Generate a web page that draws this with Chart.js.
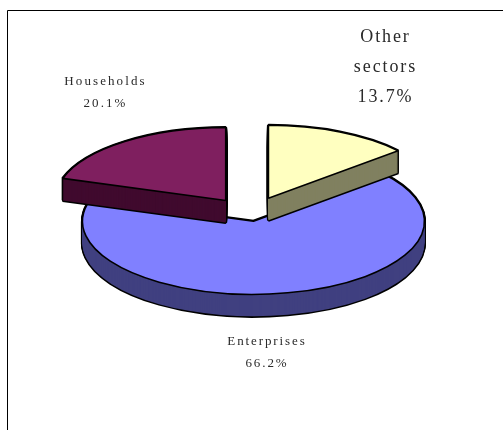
<!DOCTYPE html>
<html>
<head>
<meta charset="utf-8">
<style>
  html, body { margin: 0; padding: 0; background: #fff; }
  #wrap { position: relative; width: 503px; height: 430px; overflow: hidden; }
</style>
<script src="https://cdn.jsdelivr.net/npm/chart.js@4/dist/chart.umd.min.js"></script>
</head>
<body>
<div id="wrap"><canvas id="pie" width="503" height="430"></canvas></div>
<script>
// Shares of total by sector
const categories = ['Other sectors', 'Enterprises', 'Households'];
const shares = [13.7, 66.2, 20.1];

// Slice styling: top face, side wall, explode distance along the slice's middle
const topColors = ['#FFFFC0', '#8080FF', '#7F1F5F'];
const wallColors = ['#808060', '#404080', '#400A2E'];
const explode = [43, 15, 42];

// Tilted-disc look: vertical squash and extrusion depth
const tilt = 0.427;
const depth = 22;

// Label blocks, in the same order as the categories
const labelLayout = [
  { lines: ['Other', 'sectors'], x: 385.5, y: 42, step: 30, font: '18px "Liberation Serif"', spacing: '1.9px' },
  { x: 267, y: 345, step: 22, font: '13px "Liberation Serif"', spacing: '1.9px' },
  { x: 105.5, y: 85, step: 22, font: '13px "Liberation Serif"', spacing: '2.1px' }
];

function drawArcLayer(ctx, arc, shift, overrides, push) {
  const saved = arc.options;
  const opts = Object.create(saved);
  Object.assign(opts, overrides);
  arc.options = opts;
  const mid = (arc.startAngle + arc.endAngle) / 2;
  ctx.save();
  ctx.translate(arc.x, arc.y + shift);
  ctx.scale(1, tilt);
  ctx.translate(-arc.x, -arc.y);
  ctx.translate(Math.cos(mid) * push, Math.sin(mid) * push);
  arc.draw(ctx);
  ctx.restore();
  arc.options = saved;
}

const tiltedPie = {
  id: 'tiltedPie',
  beforeDraw(chart) {
    // Open frame along the top and left of the page
    const ctx = chart.ctx;
    ctx.save();
    ctx.fillStyle = '#fff';
    ctx.fillRect(0, 0, chart.width, chart.height);
    ctx.strokeStyle = '#000';
    ctx.lineWidth = 1;
    ctx.beginPath();
    ctx.moveTo(7.5, chart.height);
    ctx.lineTo(7.5, 10.5);
    ctx.lineTo(chart.width, 10.5);
    ctx.stroke();
    ctx.restore();
  },
  beforeDatasetsDraw(chart) {
    const ctx = chart.ctx;
    const arcs = chart.getDatasetMeta(0).data;

    // Outlines keep an even width although the path itself is squashed
    const nativeStroke = ctx.stroke;
    ctx.stroke = function () {
      ctx.save();
      ctx.setTransform(1, 0, 0, 1, 0, 0);
      nativeStroke.call(ctx);
      ctx.restore();
    };

    // The large front slice goes first, the two rear slices sit over it
    [1, 0, 2].forEach(i => {
      const arc = arcs[i];
      for (let d = depth; d >= 0; d--) {
        drawArcLayer(ctx, arc, d, { backgroundColor: '#000', borderColor: '#000', borderWidth: 3 }, explode[i]);
      }
      for (let d = depth; d >= 0; d--) {
        drawArcLayer(ctx, arc, d, { backgroundColor: wallColors[i], borderWidth: 0 }, explode[i]);
      }
      drawArcLayer(ctx, arc, 0, { backgroundColor: topColors[i], borderColor: '#000', borderWidth: 1.6 }, explode[i]);
    });

    delete ctx.stroke;
    return false;
  },
  afterDraw(chart) {
    const ctx = chart.ctx;
    ctx.save();
    ctx.fillStyle = '#2a2a2a';
    ctx.textAlign = 'center';
    ctx.textBaseline = 'alphabetic';
    labelLayout.forEach((block, i) => {
      const lines = (block.lines || [categories[i]]).concat(shares[i].toFixed(1) + '%');
      ctx.font = block.font;
      ctx.letterSpacing = block.spacing;
      lines.forEach((text, n) => ctx.fillText(text, block.x, block.y + n * block.step));
    });
    ctx.restore();
  }
};

new Chart(document.getElementById('pie'), {
  type: 'pie',
  data: {
    labels: categories,
    datasets: [{
      data: shares,
      backgroundColor: topColors,
      borderColor: '#000',
      borderWidth: 1.6
    }]
  },
  options: {
    responsive: false,
    animation: false,
    radius: 171,
    rotation: 0,
    layout: { padding: { right: 2, bottom: 0 } },
    events: [],
    plugins: { legend: { display: false }, tooltip: { enabled: false }, title: { display: false } }
  },
  plugins: [tiltedPie]
});
</script>
</body>
</html>
